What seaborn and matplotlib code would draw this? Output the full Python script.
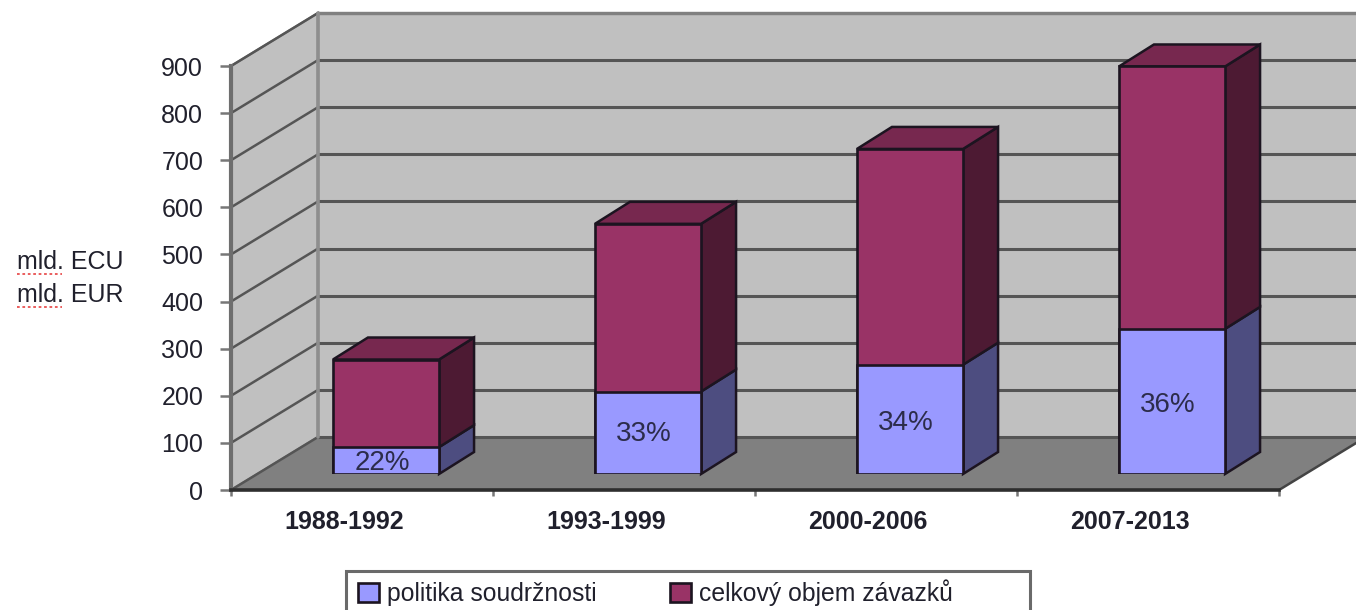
import matplotlib
matplotlib.use("Agg")
import matplotlib.pyplot as plt
from matplotlib.lines import Line2D
from matplotlib.patches import Polygon, Rectangle
import seaborn as sns

periods = ["1988-1992", "1993-1999", "2000-2006", "2007-2013"]
cohesion = [57, 175, 232, 308]
total = [243, 531, 690, 865]
shares = ["22%", "33%", "34%", "36%"]
y_ticks = [0, 100, 200, 300, 400, 500, 600, 700, 800, 900]
series_names = ["politika soudržnosti", "celkový objem závazků"]
unit_labels = ["mld. ECU", "mld. EUR"]

BLUE, BLUE_SIDE = "#9999FF", "#4D4D80"
MAROON, MAROON_SIDE, MAROON_TOP = "#993366", "#4D1A33", "#77284F"
WALL, FLOOR = "#C0C0C0", "#808080"
EDGE = "#1C1420"
TXT = "#20202C"

sns.set_theme(style="white")
plt.rcParams["font.family"] = ["Liberation Sans", "DejaVu Sans"]

W, H = 1356, 610
fig = plt.figure(figsize=(W / 100, H / 100), dpi=100, facecolor="white")


def axes_px(x0, x1, ytop, ybot):
    return fig.add_axes([x0 / W, 1 - ybot / H, (x1 - x0) / W, (ybot - ytop) / H])


# Front plane of the 3-D box: carries the real axes
ax = axes_px(231, 1279, 66, 490)
ax.set_xlim(-0.5, 3.5)
ax.set_ylim(0, 900)
ax.patch.set_alpha(0)
px_x = 1048 / 4          # pixels per category
px_y = 424 / 900         # pixels per unit
wall_dx, wall_dy = 87 / px_x, 53 / px_y

xl, xr = -0.5, 3.5
ax.add_patch(Polygon([(xl + wall_dx, wall_dy), (xl + wall_dx, 900 + wall_dy),
                      (xr + wall_dx + 1, 900 + wall_dy), (xr + wall_dx + 1, wall_dy)],
                     closed=True, fc=WALL, ec="none", clip_on=False, zorder=1))
ax.add_patch(Polygon([(xl, 0), (xl, 900), (xl + wall_dx, 900 + wall_dy), (xl + wall_dx, wall_dy)],
                     closed=True, fc=WALL, ec="#808080", lw=1.6, clip_on=False, zorder=1))
ax.add_patch(Polygon([(xl, 0), (xl + wall_dx, wall_dy), (xr + wall_dx, wall_dy), (xr, 0)],
                     closed=True, fc=FLOOR, ec="none", clip_on=False, zorder=2))
for v in y_ticks:
    grid_c = "#555555"
    ax.plot([xl, xl + wall_dx], [v, v + wall_dy], color=grid_c, lw=1.8, clip_on=False, zorder=3)
    ax.plot([xl + wall_dx, xr + wall_dx + 1], [v + wall_dy, v + wall_dy], color=grid_c, lw=2.2,
            clip_on=False, zorder=3)
ax.plot([xl + wall_dx, xr + wall_dx + 1], [900 + wall_dy] * 2, color="#808080", lw=2.4, clip_on=False, zorder=3)
ax.plot([xl + wall_dx] * 2, [0 + wall_dy, 900 + wall_dy], color="#8E8E8E", lw=2.6, clip_on=False, zorder=3)
ax.plot([xr, xr + wall_dx], [0, wall_dy], color="#444444", lw=1.8, clip_on=False, zorder=3)

for s in ["top", "right"]:
    ax.spines[s].set_visible(False)
ax.spines["left"].set_color("#6E6E6E")
ax.spines["left"].set_linewidth(3)
ax.spines["bottom"].set_color("#2E2E2E")
ax.spines["bottom"].set_linewidth(2.6)
for s in ax.spines.values():
    s.set_zorder(6)
ax.set_yticks(y_ticks)
ax.set_yticklabels([str(v) for v in y_ticks], fontsize=18, color=TXT)
ax.tick_params(axis="y", left=True, length=8, width=1.8, color="#777777", pad=12)
ax.set_xticks([-0.5, 0.5, 1.5, 2.5, 3.5])
ax.set_xticklabels([])
ax.tick_params(axis="x", bottom=True, length=4, width=1.8, color="#777777")
ax.set_xticks([i - 0.068 for i in range(4)], minor=True)
ax.set_xticklabels(periods, minor=True, fontsize=18, fontweight="bold", color=TXT)
ax.tick_params(axis="x", which="minor", bottom=False, length=0, pad=14.5)

# Bars sit part-way into the box, so they get a plane of their own
ax_b = axes_px(231 + 24, 1279 + 24, 66 - 16, 490 - 16)
sns.barplot(x=periods, y=total, color=MAROON, saturation=1, width=0.405,
            edgecolor=EDGE, linewidth=1.9, ax=ax_b, zorder=5)
sns.barplot(x=periods, y=cohesion, color=BLUE, saturation=1, width=0.405,
            edgecolor=EDGE, linewidth=1.9, ax=ax_b, zorder=6)
ax_b.set_xlim(-0.5, 3.5)
ax_b.set_ylim(0, 900)
ax_b.patch.set_alpha(0)
ax_b.set_axis_off()

dep_x, dep_y = 35 / px_x, 22 / px_y
label_dy = [-2, -1, -4, -4]
for bar_t, bar_c, label, dy in zip(ax_b.containers[0], ax_b.containers[1], shares, label_dy):
    x0, x1 = bar_t.get_x(), bar_t.get_x() + bar_t.get_width()
    t, c = bar_t.get_height(), bar_c.get_height()
    kw = dict(closed=True, ec=EDGE, lw=1.8, clip_on=False, zorder=4)
    ax_b.add_patch(Polygon([(x1, 0), (x1, c), (x1 + dep_x, c + dep_y), (x1 + dep_x, dep_y)], fc=BLUE_SIDE, **kw))
    ax_b.add_patch(Polygon([(x1, c), (x1, t), (x1 + dep_x, t + dep_y), (x1 + dep_x, c + dep_y)], fc=MAROON_SIDE, **kw))
    ax_b.add_patch(Polygon([(x0, t), (x0 + dep_x, t + dep_y), (x1 + dep_x, t + dep_y), (x1, t)], fc=MAROON_TOP, **kw))
    ax_b.annotate(label, ((x0 + x1) / 2, c / 2), xytext=(-4, dy), textcoords="offset pixels",
                  ha="center", va="center", fontsize=20, color="#2C2C4A", zorder=8)

# Unit labels with the spell-checker underline of the source
for lab, ypx in zip(unit_labels, [262, 295]):
    fig.text(17 / W, 1 - ypx / H, lab, fontsize=18, color=TXT, ha="left", va="center")
    fig.add_artist(Line2D([17 / W, 62 / W], [1 - (ypx + 12) / H] * 2, color="#E85050", lw=1.3, ls=(0, (1.5, 1.5))))

# Legend frame runs off the bottom of the picture, as in the source
fig.add_artist(Rectangle((346 / W, -0.03), 684 / W, 0.03 + 1 - 571 / H, transform=fig.transFigure,
                         fc="white", ec="#6A6A6A", lw=2.2, zorder=1))
leg = fig.legend([ax_b.containers[1][0], ax_b.containers[0][0]], series_names,
                 loc="upper left", bbox_to_anchor=(346 / W, 1 - 567 / H),
                 ncol=2, frameon=False, fontsize=17.8, labelcolor=TXT, borderaxespad=0, borderpad=0.5,
                 handlelength=0.85, handleheight=0.85, handletextpad=0.32, columnspacing=2.95)
leg.set_zorder(2)

fig.savefig("out.png", dpi=100, facecolor="white")
